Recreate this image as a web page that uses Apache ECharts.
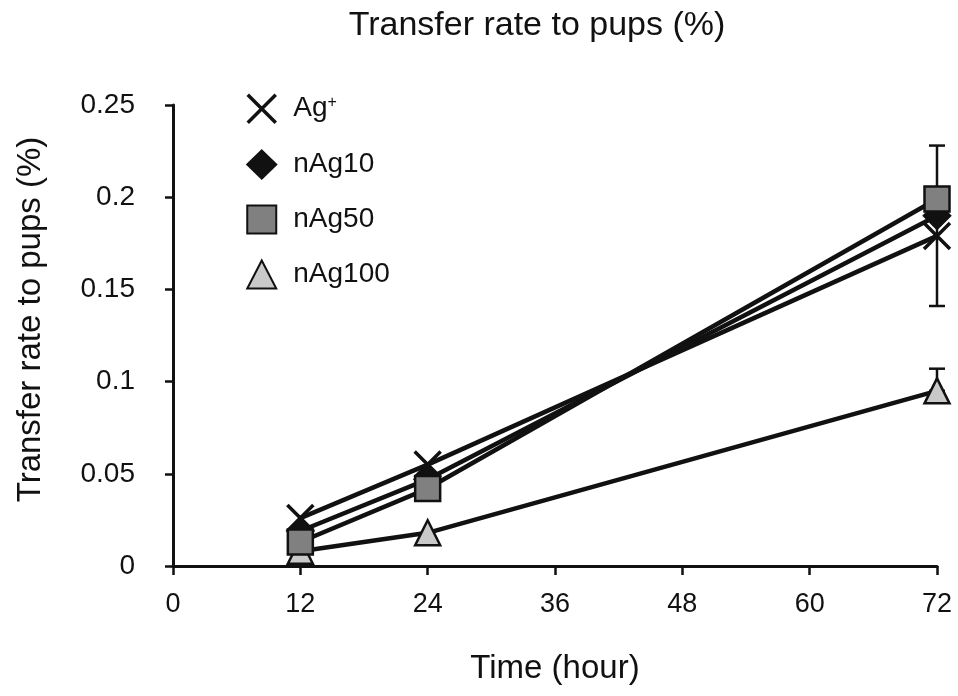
<!DOCTYPE html>
<html>
<head>
<meta charset="utf-8">
<script src="https://cdn.jsdelivr.net/npm/echarts@6/dist/echarts.min.js"></script>
<style>
  html, body { margin: 0; padding: 0; background: #fff; }
  #panel { width: 958px; height: 696px; }
</style>
</head>
<body>
<div id="panel"></div>
<script>
// data
var hours = [12, 24, 72];
var agIon = [0.026, 0.055, 0.179];
var nAg10 = [0.019, 0.047, 0.190];
var nAg50 = [0.013, 0.042, 0.199];
var nAg100 = [0.008, 0.018, 0.095];
// error bars at 72 h: [x, low, high]
var errBars = [[72, 0.141, 0.228], [72, 0.095, 0.107]];

var crossPath = 'path://M0,0L10,10M10,0L0,10';
var font = 'Liberation Sans, Arial, sans-serif';
var ink = '#111';

chartDom = document.getElementById('panel');
myChart = echarts.init(chartDom);

function lineSeries(name, data, symbol, size, fill, extra) {
    var s = {
        name: name,
        type: 'line',
        data: hours.map(function (h, i) { return [h, data[i]]; }),
        symbol: symbol,
        symbolSize: size,
        showAllSymbol: true,
        lineStyle: { color: ink, width: 4.5 },
        itemStyle: { color: fill, borderColor: ink, borderWidth: 2.5, opacity: 1 },
        emphasis: { disabled: true },
        z: 3
    };
    return Object.assign(s, extra || {});
}

var option = {
    animation: false,
    backgroundColor: '#fff',
    title: {
        text: 'Transfer rate to pups (%)',
        left: 532, top: 4, textAlign: 'center',
        textStyle: { fontFamily: font, fontSize: 34, fontWeight: 'normal', color: ink }
    },
    legend: {
        orient: 'vertical',
        left: 241, top: 88,
        itemWidth: 29, itemHeight: 28, itemGap: 25,
        textStyle: { fontFamily: font, fontSize: 28, color: ink, padding: [0, 0, 0, 12],
            rich: { sup: { fontSize: 16, verticalAlign: 'top', padding: [0, 0, 12, 0], fontFamily: font, color: ink } } },
        formatter: function (n) { return n === 'Ag+' ? 'Ag{sup|+}' : n; },
        data: [
            { name: 'Ag+', icon: crossPath, itemStyle: { color: ink, borderColor: ink, borderWidth: 3.5 } },
            { name: 'nAg10', icon: 'diamond' },
            { name: 'nAg50', icon: 'rect' },
            { name: 'nAg100', icon: 'triangle' }
        ]
    },
    grid: { left: 173, right: 21, top: 105, bottom: 130 },
    xAxis: {
        type: 'value', min: 0, max: 72, interval: 12,
        name: 'Time (hour)', nameLocation: 'middle', nameGap: 86,
        nameTextStyle: { fontFamily: font, fontSize: 33, color: ink },
        axisLine: { lineStyle: { color: ink, width: 3 } },
        axisTick: { show: true, length: 9, lineStyle: { color: ink, width: 2.5 } },
        axisLabel: { fontFamily: font, fontSize: 27, color: ink, margin: 25 },
        splitLine: { show: false }
    },
    yAxis: {
        type: 'value', min: 0, max: 0.25, interval: 0.05,
        name: 'Transfer rate to pups (%)', nameLocation: 'middle', nameGap: 126,
        nameTextStyle: { fontFamily: font, fontSize: 33, color: ink, padding: [0, 0, 0, 32] },
        axisLine: { show: true, lineStyle: { color: ink, width: 3 } },
        axisTick: { show: true, length: 8, lineStyle: { color: ink, width: 2.5 } },
        axisLabel: { fontFamily: font, fontSize: 28, color: ink, margin: 38, padding: [0, 0, 14, 0] },
        splitLine: { show: false }
    },
    series: [
        {
            type: 'custom',
            name: 'err',
            data: errBars,
            z: 2,
            silent: true,
            renderItem: function (params, api) {
                var x = api.value(0);
                var lo = api.coord([x, api.value(1)]);
                var hi = api.coord([x, api.value(2)]);
                var cap = 8;
                var st = { stroke: ink, lineWidth: 2.5 };
                return {
                    type: 'group',
                    children: [
                        { type: 'line', shape: { x1: lo[0], y1: lo[1], x2: hi[0], y2: hi[1] }, style: st },
                        { type: 'line', shape: { x1: lo[0] - cap, y1: lo[1], x2: lo[0] + cap, y2: lo[1] }, style: st },
                        { type: 'line', shape: { x1: hi[0] - cap, y1: hi[1], x2: hi[0] + cap, y2: hi[1] }, style: st }
                    ]
                };
            }
        },
        lineSeries('nAg100', nAg100, 'triangle', 25, '#c9c9c9'),
        lineSeries('Ag+', agIon, crossPath, 26, ink, { itemStyle: { color: ink, borderColor: ink, borderWidth: 3.5 } }),
        lineSeries('nAg10', nAg10, 'diamond', 26, ink),
        lineSeries('nAg50', nAg50, 'rect', 25, '#808080')
    ]
};

myChart.setOption(option);
</script>
</body>
</html>
